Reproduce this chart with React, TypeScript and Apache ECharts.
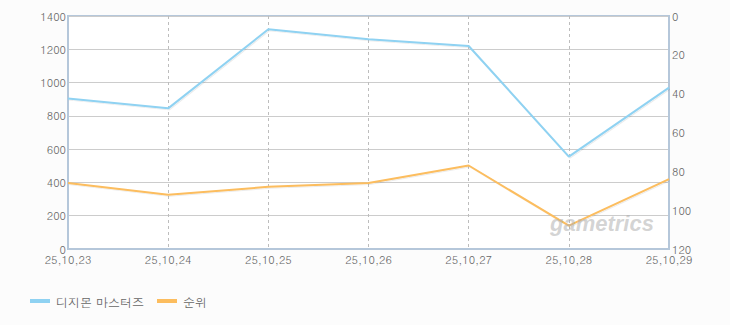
import React, { useEffect, useRef } from "react";
import * as echarts from "echarts";

const categories = ["25,10,23", "25,10,24", "25,10,25", "25,10,26", "25,10,27", "25,10,28", "25,10,29"];
const seriesNames = ["디지몬 마스터즈", "순위"];
const users = [905, 845, 1320, 1260, 1220, 555, 970];
const ranks = [86, 92, 88, 86, 77, 108, 84];
const leftTicks = { min: 0, max: 1400, interval: 200 };
const rightTicks = { min: 0, max: 120, interval: 20 };

const FONT = "Dotum, 'Noto Sans CJK KR', 'DejaVu Sans', sans-serif";

export default function App() {
  const ref = useRef<HTMLDivElement>(null);
  useEffect(() => {
    document.body.style.margin = "0";
    if (!ref.current) return;
    const chart = echarts.init(ref.current, undefined, { renderer: "svg" });
    chart.setOption({
      animation: false,
      backgroundColor: "#fcfcfc",
      textStyle: { fontFamily: FONT },
      grid: {
        left: 68,
        right: 61,
        top: 16,
        bottom: 76,
        show: true,
        backgroundColor: "#ffffff",
        borderColor: "#b5c7da",
        borderWidth: 2,
      },
      legend: {
        left: 30,
        top: 295,
        padding: 0,
        itemWidth: 20,
        itemHeight: 4,
        itemGap: 13,
        icon: "rect",
        textStyle: { color: "#666", fontSize: 12, fontFamily: FONT, padding: [0, 0, 0, 1] },
        data: seriesNames,
      },
      xAxis: {
        type: "category",
        data: categories,
        boundaryGap: false,
        axisLine: { show: true, lineStyle: { color: "#b5c7da", width: 2 } },
        axisTick: { show: false },
        axisLabel: { color: "#666", fontSize: 11, margin: 5, fontFamily: FONT },
        splitLine: { show: true, lineStyle: { color: "#bdbdbd", type: [3, 3], width: 1 } },
      },
      yAxis: [
        {
          type: "value",
          ...leftTicks,
          axisLine: { show: true, lineStyle: { color: "#b5c7da", width: 2 } },
          axisTick: { show: false },
          axisLabel: { color: "#666", fontSize: 11, margin: 2, fontFamily: FONT, formatter: (v: number) => String(v) },
          splitLine: { show: true, lineStyle: { color: "#cccccc", width: 1 } },
        },
        {
          type: "value",
          inverse: true,
          ...rightTicks,
          axisLine: { show: true, lineStyle: { color: "#b5c7da", width: 2 } },
          axisTick: { show: false },
          axisLabel: { color: "#666", fontSize: 11, margin: 3, fontFamily: FONT, formatter: (v: number) => String(v) },
          splitLine: { show: false },
        },
      ],
      series: [
        {
          name: seriesNames[0],
          type: "line",
          data: users,
          yAxisIndex: 0,
          showSymbol: false,
          symbol: "none",
          itemStyle: { color: "#8fd2f2" },
          lineStyle: { color: "#8fd2f2", width: 2, shadowColor: "rgba(0,0,0,0.08)", shadowOffsetX: 1, shadowOffsetY: 1, shadowBlur: 1 },
        },
        {
          name: seriesNames[1],
          type: "line",
          data: ranks,
          yAxisIndex: 1,
          showSymbol: false,
          symbol: "none",
          itemStyle: { color: "#fcbd5e" },
          lineStyle: { color: "#fcbd5e", width: 2, shadowColor: "rgba(0,0,0,0.08)", shadowOffsetX: 1, shadowOffsetY: 1, shadowBlur: 1 },
        },
      ],
      graphic: [
        {
          type: "text",
          left: 550,
          top: 212,
          z: 100,
          silent: true,
          style: {
            text: "gametrics",
            fill: "rgba(175,175,175,0.55)",
            font: "italic bold 22px 'Liberation Sans', Arial, sans-serif",
          },
        },
      ],
    });
    return () => chart.dispose();
  }, []);
  return <div ref={ref} style={{ width: 730, height: 325 }} />;
}
